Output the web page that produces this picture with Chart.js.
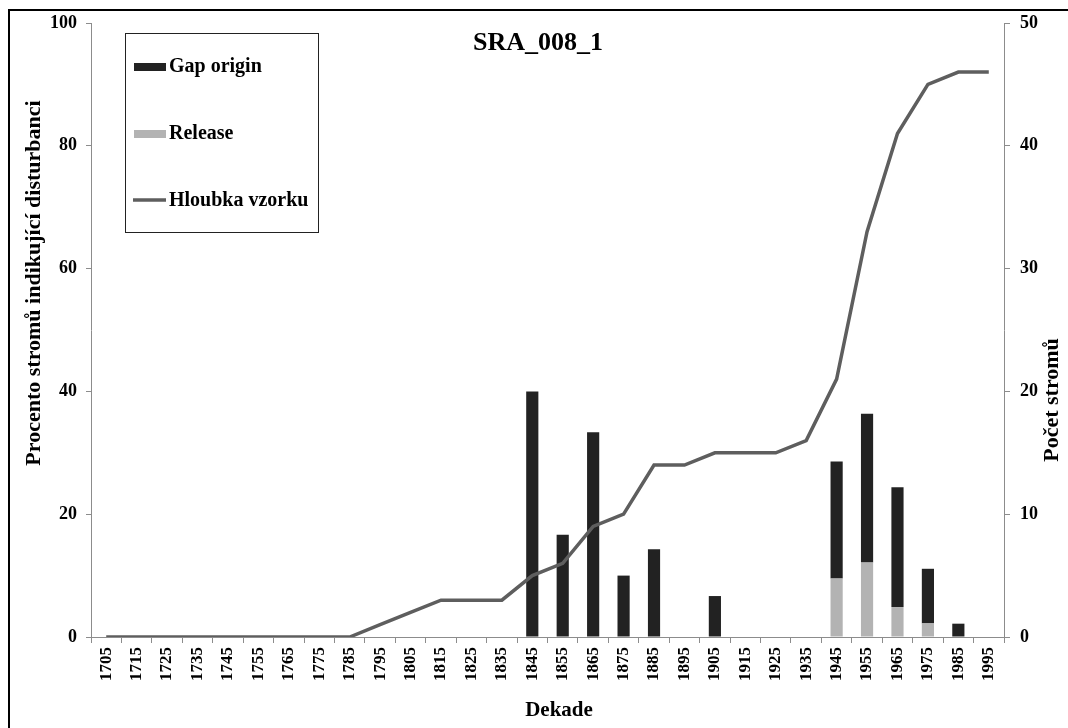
<!DOCTYPE html>
<html>
<head>
<meta charset="utf-8">
<script src="https://cdn.jsdelivr.net/npm/chart.js@4.4.1/dist/chart.umd.min.js"></script>
<style>
    html, body { margin: 0; padding: 0; background: #fff; overflow: hidden; }
    .wrap { position: relative; width: 1068px; height: 728px; overflow: hidden; }
    .frame { position: absolute; left: 8px; top: 9px; width: 1200px; height: 900px; border: 2px solid #000; box-sizing: border-box; }
    #sra_chart { position: absolute; left: 0; top: 0; }
</style>
</head>
<body>
<div class="wrap">
    <div class="frame"></div>
    <canvas id="sra_chart" width="1068" height="728"></canvas>
</div>
<script>
// decades, % of trees showing disturbance and sample depth (number of trees)
var decades = ["1705", "1715", "1725", "1735", "1745", "1755", "1765", "1775", "1785", "1795",
    "1805", "1815", "1825", "1835", "1845", "1855", "1865", "1875", "1885", "1895",
    "1905", "1915", "1925", "1935", "1945", "1955", "1965", "1975", "1985", "1995"];
var gapOrigin = [0, 0, 0, 0, 0, 0, 0, 0, 0, 0,
    0, 0, 0, 0, 40, 16.67, 33.33, 10, 14.29, 0,
    6.67, 0, 0, 0, 19.05, 24.24, 19.51, 8.89, 2.17, 0];
var release = [0, 0, 0, 0, 0, 0, 0, 0, 0, 0,
    0, 0, 0, 0, 0, 0, 0, 0, 0, 0,
    0, 0, 0, 0, 9.52, 12.12, 4.88, 2.22, 0, 0];
var sampleDepth = [0, 0, 0, 0, 0, 0, 0, 0, 0, 1,
    2, 3, 3, 3, 5, 6, 9, 10, 14, 14,
    15, 15, 15, 16, 21, 33, 41, 45, 46, 46];
var percentTicks = [0, 20, 40, 60, 80, 100];
var countTicks = [0, 10, 20, 30, 40, 50];

var serif = "'Liberation Serif', 'Times New Roman', serif";
var axisGray = "#8c8c8c";

// empty decades get no bar at all
function skipZero(arr) {
    return arr.map(function(v) { return v === 0 ? null : v; });
}

function drawVertical(ctx, text, x, y) {
    ctx.save();
    ctx.translate(x, y);
    ctx.rotate(-Math.PI / 2);
    ctx.textAlign = "center";
    ctx.textBaseline = "middle";
    ctx.fillText(text, 0, 0);
    ctx.restore();
}

// legend in a framed box inside the plot, chart title and axis titles
var boxLegend = {
    id: "boxLegend",
    afterDraw: function(chart) {
        let ctx = chart.ctx;
        let ds = chart.data.datasets;
        ctx.save();
        ctx.strokeStyle = "#222";
        ctx.lineWidth = 1;
        ctx.strokeRect(125.5, 33.5, 193, 199);

        ctx.font = "bold 20px " + serif;
        ctx.fillStyle = "#000";
        ctx.textBaseline = "middle";
        // Gap origin
        ctx.fillStyle = ds[1].backgroundColor;
        ctx.fillRect(134, 63, 32, 8);
        ctx.fillStyle = "#000";
        ctx.fillText(ds[1].label, 169, 67);
        // Release
        ctx.fillStyle = ds[0].backgroundColor;
        ctx.fillRect(134, 130, 32, 8);
        ctx.fillStyle = "#000";
        ctx.fillText(ds[0].label, 169, 134);
        // Hloubka vzorku
        ctx.strokeStyle = ds[2].borderColor;
        ctx.lineWidth = 3.5;
        ctx.beginPath();
        ctx.moveTo(133, 200);
        ctx.lineTo(166, 200);
        ctx.stroke();
        ctx.fillText(ds[2].label, 169, 201);

        ctx.textAlign = "center";
        ctx.font = "bold 26px " + serif;
        ctx.fillText("SRA_008_1", 538, 43);
        ctx.font = "bold 21px " + serif;
        ctx.fillText("Dekade", 559, 711);

        ctx.font = "bold 22px " + serif;
        drawVertical(ctx, "Procento stromů indikující disturbanci", 34, 283);
        drawVertical(ctx, "Počet stromů", 1052, 400);
        ctx.restore();
    }
};

new Chart("sra_chart", {
    data: {
        labels: decades,
        datasets: [
            {
                type: "bar",
                label: "Release",
                data: skipZero(release),
                backgroundColor: "#b3b3b3",
                yAxisID: "y",
                order: 1,
                barPercentage: 0.4,
                categoryPercentage: 1
            },
            {
                type: "bar",
                label: "Gap origin",
                data: skipZero(gapOrigin),
                backgroundColor: "#222222",
                yAxisID: "y",
                order: 1,
                barPercentage: 0.4,
                categoryPercentage: 1
            },
            {
                type: "line",
                label: "Hloubka vzorku",
                data: sampleDepth,
                borderColor: "#5e5e5e",
                borderWidth: 3.5,
                pointRadius: 0,
                tension: 0,
                yAxisID: "y1",
                order: 0
            }
        ]
    },
    options: {
        responsive: false,
        animation: false,
        layout: { padding: { top: 23, left: 0, right: 0, bottom: 0 } },
        plugins: {
            legend: { display: false },
            tooltip: { enabled: false }
        },
        scales: {
            x: {
                stacked: true,
                afterFit: function(scale) { scale.height = 91; },
                border: { display: true, color: axisGray, width: 1 },
                grid: { offset: true, drawOnChartArea: false, drawTicks: true, tickLength: 6, color: axisGray },
                ticks: {
                    autoSkip: false,
                    minRotation: 90,
                    maxRotation: 90,
                    padding: 4,
                    color: "#000",
                    font: { family: serif, size: 17, weight: "bold" }
                }
            },
            y: {
                position: "left",
                stacked: true,
                min: 0,
                max: 100,
                afterFit: function(scale) { scale.width = 91; },
                afterBuildTicks: function(scale) {
                    scale.ticks = percentTicks.map(function(v) { return { value: v }; });
                },
                border: { display: true, color: axisGray, width: 1 },
                grid: { drawOnChartArea: false, drawTicks: true, tickLength: 5, color: axisGray },
                ticks: {
                    padding: 9,
                    color: "#000",
                    font: { family: serif, size: 18, weight: "bold" }
                }
            },
            y1: {
                position: "right",
                min: 0,
                max: 50,
                afterFit: function(scale) { scale.width = 64; },
                afterBuildTicks: function(scale) {
                    scale.ticks = countTicks.map(function(v) { return { value: v }; });
                },
                border: { display: true, color: axisGray, width: 1 },
                grid: { drawOnChartArea: false, drawTicks: true, tickLength: 6, color: axisGray },
                ticks: {
                    padding: 10,
                    color: "#000",
                    font: { family: serif, size: 18, weight: "bold" }
                }
            }
        }
    },
    plugins: [boxLegend]
});
</script>
</body>
</html>
